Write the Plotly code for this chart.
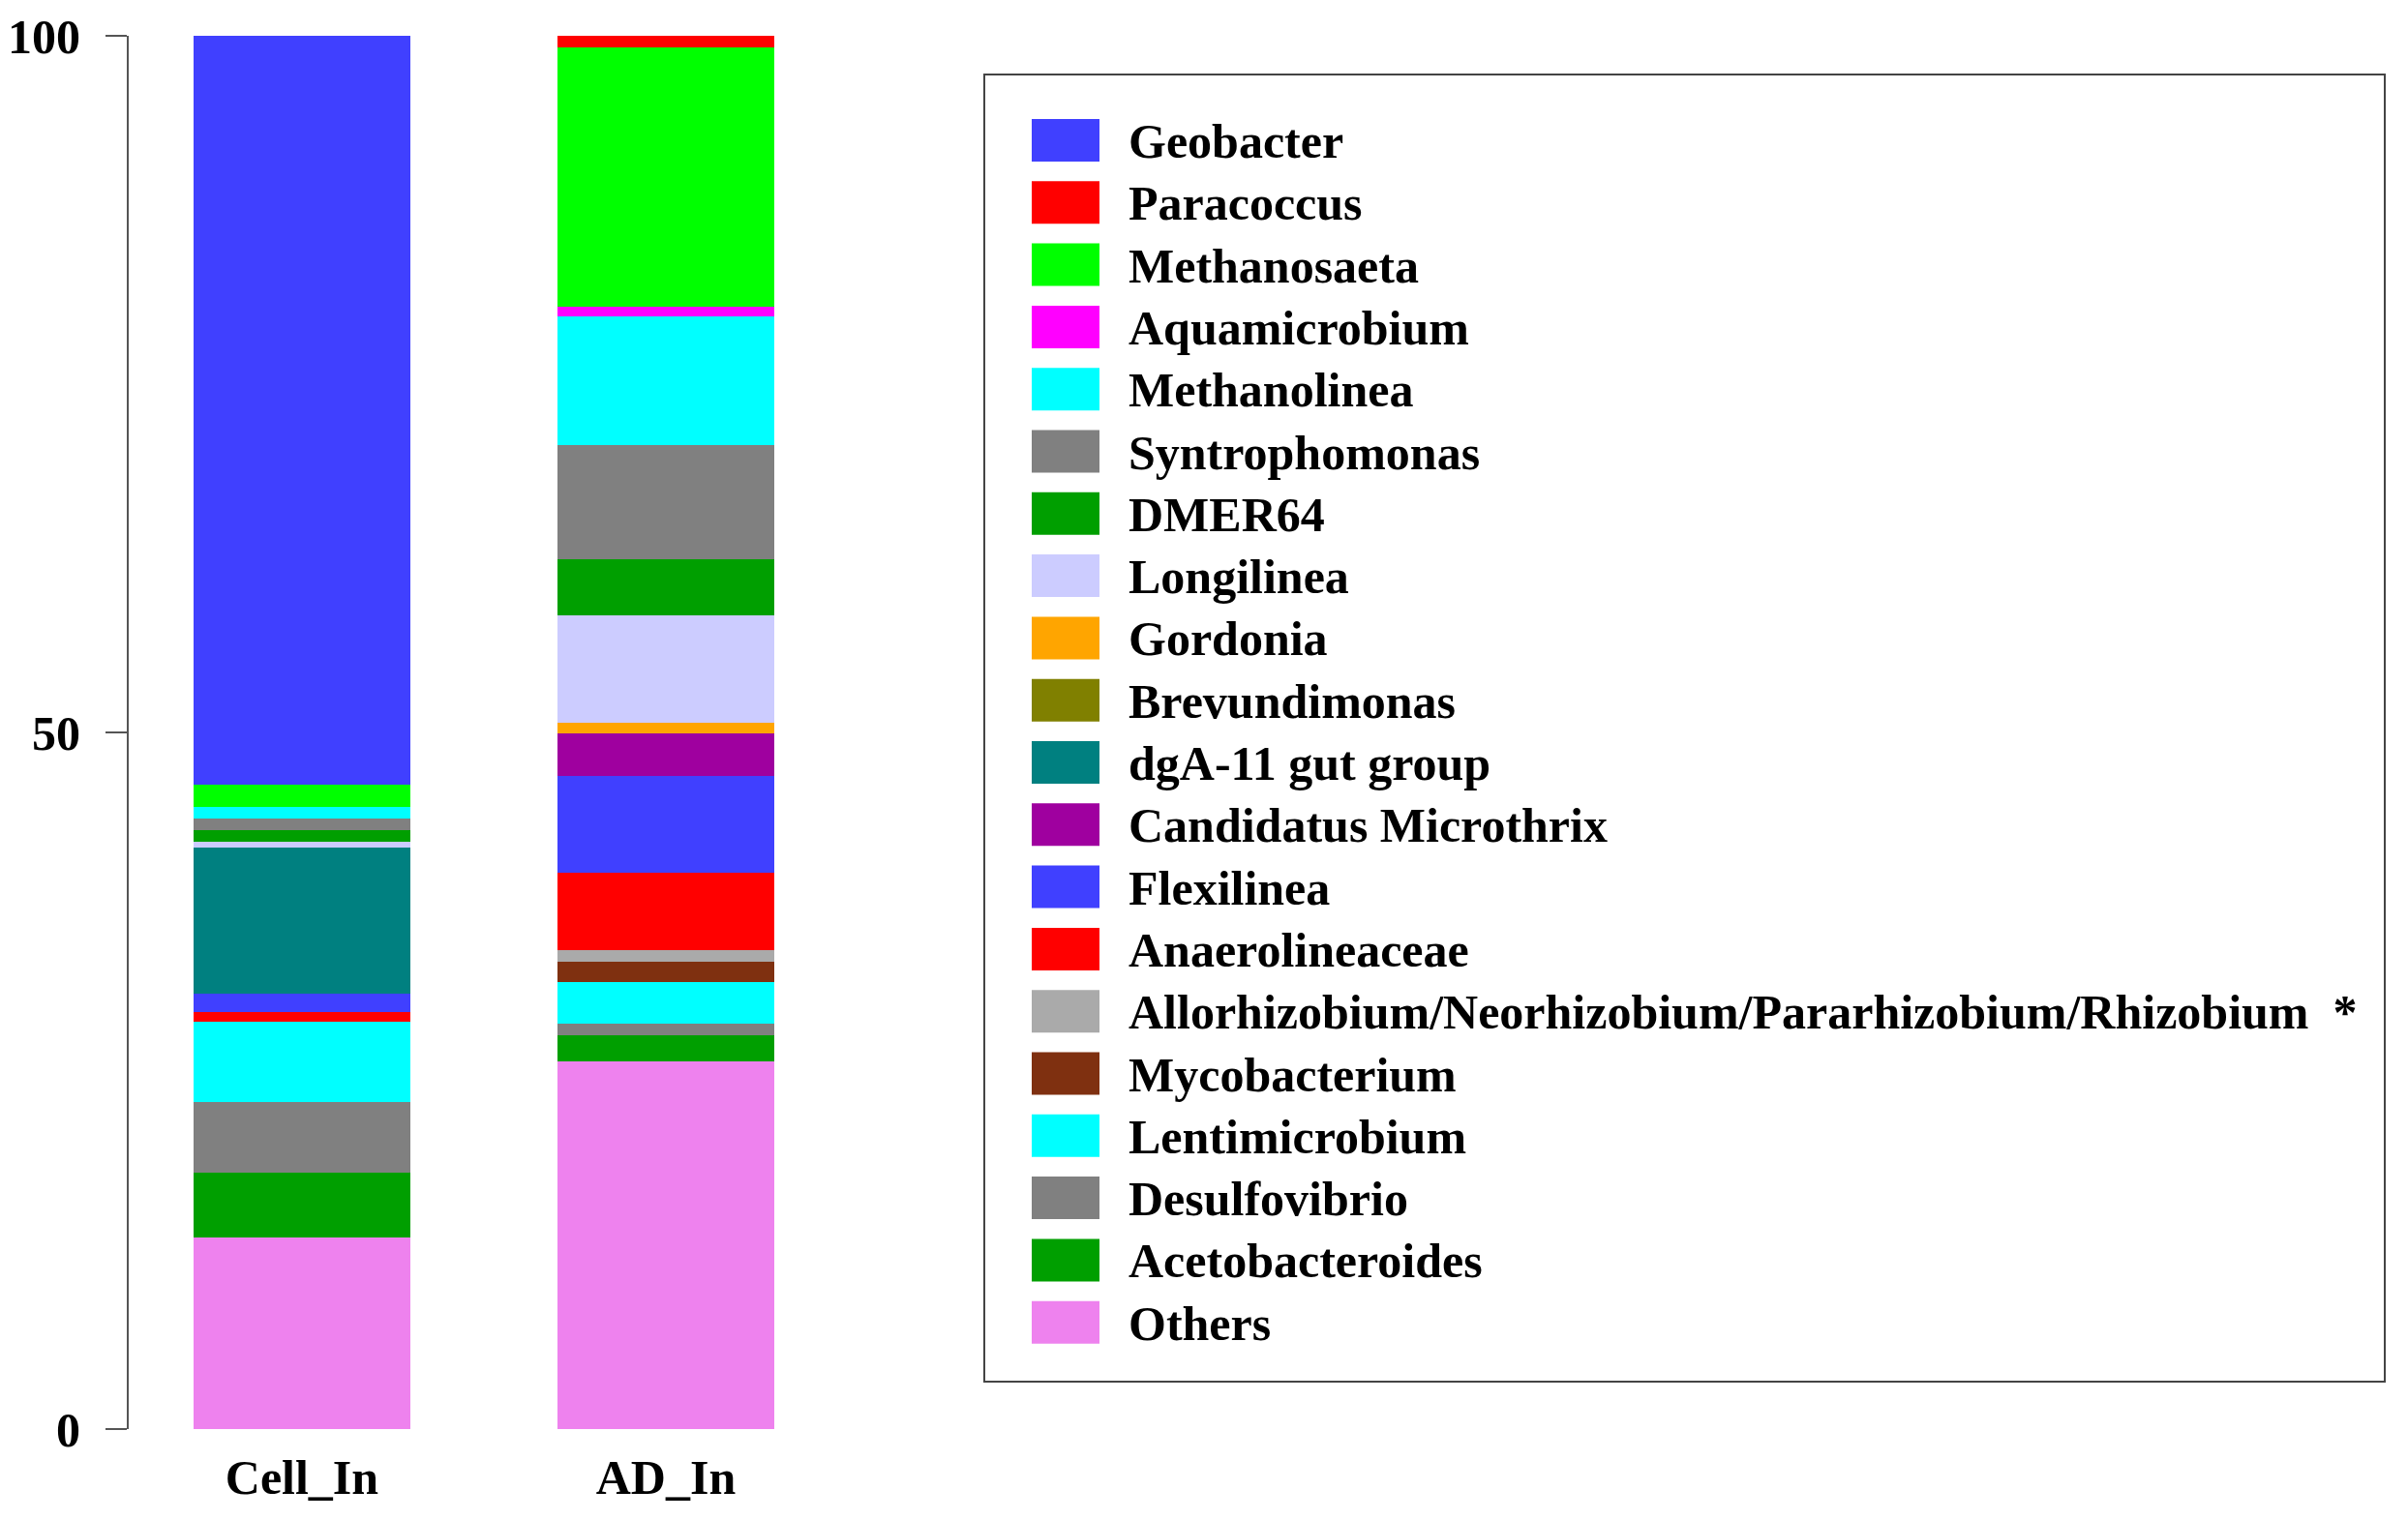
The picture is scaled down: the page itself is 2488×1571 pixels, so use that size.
import plotly.graph_objects as go

# ---- data (legend order, top to bottom) ----
species = [
    "Geobacter", "Paracoccus", "Methanosaeta", "Aquamicrobium", "Methanolinea",
    "Syntrophomonas", "DMER64", "Longilinea", "Gordonia", "Brevundimonas",
    "dgA-11 gut group", "Candidatus Microthrix", "Flexilinea", "Anaerolineaceae",
    "Allorhizobium/Neorhizobium/Pararhizobium/Rhizobium", "Mycobacterium",
    "Lentimicrobium", "Desulfovibrio", "Acetobacteroides", "Others",
]
legend_suffix = ["", "", "", "", "", "", "", "", "", "", "", "", "", "",
                 "\u00a0\u00a0*", "", "", "", "", ""]
colors = [
    "#4040FF", "#FF0000", "#00FF00", "#FF00FF", "#00FFFF",
    "#808080", "#009F00", "#CCCCFF", "#FFA500", "#808000",
    "#008080", "#9F009F", "#4040FF", "#FF0000",
    "#AAAAAA", "#7F3010",
    "#00FFFF", "#808080", "#009F00", "#EE82EE",
]
samples = ["Cell_In", "AD_In"]
cell_in = [53.78, 0.00, 1.60, 0.00, 0.81, 0.81, 0.85, 0.39, 0.00, 0.00,
           10.52, 0.00, 1.31, 0.71, 0.00, 0.00, 5.77, 5.03, 4.67, 13.75]
ad_in = [0.00, 0.80, 18.63, 0.74, 9.21, 8.21, 4.01, 7.68, 0.78, 0.00,
         0.00, 3.05, 6.97, 5.56, 0.81, 1.50, 2.97, 0.85, 1.87, 26.36]
y_ticks = [0, 50, 100]

FONT = "Liberation Serif, Times New Roman, serif"
W, H = 2488, 1571
OFF = 8  # page body margin
ML, MR, MT, MB = 133 - OFF, 1488 + OFF, 37 - OFF, 94 + OFF
PW = W - ML - MR
PH = H - MT - MB


def px_x(px):
    return (px - OFF - ML) / PW


def px_y(py):
    return (H - MB - (py - OFF)) / PH


fig = go.Figure()
# stack from bottom ("Others") to top ("Geobacter")
for i in reversed(range(len(species))):
    fig.add_trace(go.Bar(
        x=samples,
        y=[cell_in[i], ad_in[i]],
        name=species[i],
        marker=dict(color=colors[i], line=dict(width=0)),
        width=0.596,
        showlegend=False,
    ))

# ---- custom legend with large swatches ----
shapes = [dict(type="rect", xref="paper", yref="paper",
               x0=px_x(1017), x1=px_x(2464), y0=px_y(1428), y1=px_y(77),
               line=dict(color="#444444", width=2), fillcolor="rgba(0,0,0,0)")]
annotations = []
row0, step = 145, 64.3
for i, name in enumerate(species):
    cy = row0 + step * i
    shapes.append(dict(type="rect", xref="paper", yref="paper",
                       x0=px_x(1066), x1=px_x(1136),
                       y0=px_y(cy + 22), y1=px_y(cy - 22),
                       line=dict(width=0), fillcolor=colors[i]))
    annotations.append(dict(xref="paper", yref="paper", x=px_x(1164), y=px_y(cy + 1),
                            xanchor="left", yanchor="middle", showarrow=False,
                            text="<b>" + name + legend_suffix[i] + "</b>",
                            font=dict(family=FONT, size=50, color="black")))

fig.update_layout(
    width=W, height=H,
    barmode="stack",
    bargap=0,
    plot_bgcolor="white", paper_bgcolor="white",
    margin=dict(l=ML, r=MR, t=MT, b=MB, autoexpand=False),
    shapes=shapes,
    annotations=annotations,
    font=dict(family=FONT, size=50, color="black"),
    showlegend=False,
)
fig.update_xaxes(
    type="category",
    range=[-0.476, 1.830],
    showline=False, showgrid=False, zeroline=False, ticks="",
    tickvals=samples, ticktext=["<b>" + s + "</b>" for s in samples],
    tickfont=dict(family=FONT, size=50, color="black"),
    ticklabelstandoff=16,
)
fig.update_yaxes(
    range=[0, 100],
    tickvals=y_ticks, ticktext=["<b>%d</b>" % v for v in y_ticks],
    showline=True, linecolor="#555555", linewidth=2,
    ticks="outside", ticklen=22, tickwidth=2, tickcolor="#555555",
    showgrid=False, zeroline=False,
    tickfont=dict(family=FONT, size=50, color="black"),
    ticklabelstandoff=16,
)

fig.write_html("out.html")
